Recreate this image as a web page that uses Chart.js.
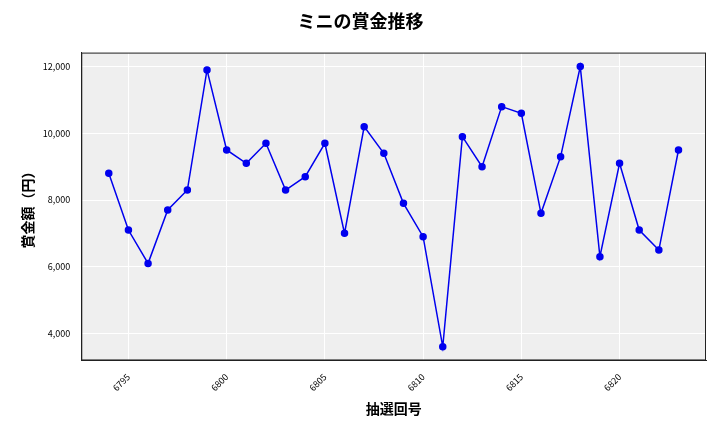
<!DOCTYPE html>
<html>
<head>
<meta charset="utf-8">
<script src="https://cdn.jsdelivr.net/npm/chart.js@4"></script>
<style>
  body { margin: 0; background: #fff; }
  #wrap { width: 720px; height: 432px; }
</style>
</head>
<body>
<div id="wrap"><canvas id="myChart"></canvas></div>
<script>
const draws = [6794, 6795, 6796, 6797, 6798, 6799, 6800, 6801, 6802, 6803,
               6804, 6805, 6806, 6807, 6808, 6809, 6810, 6811, 6812, 6813,
               6814, 6815, 6816, 6817, 6818, 6819, 6820, 6821, 6822, 6823];
const prizes = [8800, 7100, 6100, 7700, 8300, 11900, 9500, 9100, 9700, 8300,
                8700, 9700, 7000, 10200, 9400, 7900, 6900, 3600, 9900, 9000,
                10800, 10600, 7600, 9300, 12000, 6300, 9100, 7100, 6500, 9500];

const FONT = "'Noto Sans CJK JP', 'Noto Sans', sans-serif";

// grey plot area behind the grid, dark frame around it
const plotBg = {
    id: 'plotBg',
    beforeDraw(chart) {
        const a = chart.chartArea;
        const c = chart.ctx;
        c.save();
        c.fillStyle = '#efefef';
        c.fillRect(a.left, a.top, a.right - a.left, a.bottom - a.top);
        c.restore();
    },
    afterDatasetsDraw(chart) {
        const a = chart.chartArea;
        const c = chart.ctx;
        c.save();
        c.strokeStyle = '#222';
        c.lineWidth = 1;
        c.strokeRect(a.left + 0.5, a.top + 0.5, a.right - a.left - 1, a.bottom - a.top - 1);
        c.restore();
    }
};

new Chart(document.getElementById('myChart'), {
    type: 'line',
    data: {
        datasets: [{
            data: draws.map((d, i) => ({ x: d, y: prizes[i] })),
            borderColor: '#0000ee',
            backgroundColor: '#0000ee',
            borderWidth: 1.5,
            pointRadius: 3,
            tension: 0
        }]
    },
    options: {
        responsive: true,
        maintainAspectRatio: false,
        animation: false,
        layout: { padding: { left: 15, right: 14, top: 6, bottom: 11 } },
        plugins: {
            legend: { display: false },
            tooltip: { enabled: false },
            title: {
                display: true,
                text: 'ミニの賞金推移',
                font: { family: FONT, size: 18, weight: 'bold' },
                color: '#000',
                padding: { top: 4, bottom: 21 }
            }
        },
        scales: {
            x: {
                type: 'linear',
                min: 6792.6,
                max: 6824.4,
                afterBuildTicks(axis) {
                    axis.ticks = [6795, 6800, 6805, 6810, 6815, 6820].map(v => ({ value: v }));
                },
                ticks: {
                    font: { family: FONT, size: 9 },
                    color: '#000',
                    maxRotation: 45,
                    minRotation: 45,
                    callback: v => String(v)
                },
                grid: { color: '#ffffff', lineWidth: 1 },
                border: { color: '#222' },
                title: {
                    display: true,
                    text: '抽選回号',
                    font: { family: FONT, size: 14, weight: 'bold' },
                    color: '#000'
                }
            },
            y: {
                min: 3190,
                max: 12420,
                afterBuildTicks(axis) {
                    axis.ticks = [4000, 6000, 8000, 10000, 12000].map(v => ({ value: v }));
                },
                ticks: {
                    font: { family: FONT, size: 9 },
                    color: '#000',
                    callback: v => v.toLocaleString('en-US')
                },
                grid: { color: '#ffffff', lineWidth: 1 },
                border: { color: '#222' },
                title: {
                    display: true,
                    text: '賞金額（円）',
                    font: { family: FONT, size: 14, weight: 'bold' },
                    color: '#000'
                }
            }
        }
    },
    plugins: [plotBg]
});
</script>
</body>
</html>
